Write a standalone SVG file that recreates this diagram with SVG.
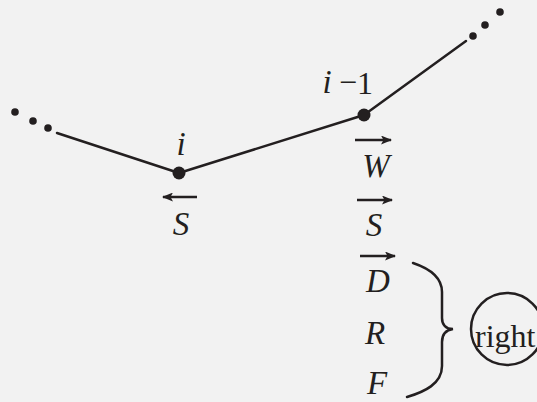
<svg xmlns="http://www.w3.org/2000/svg" width="537" height="402" viewBox="0 0 537 402">
<defs>
<style>
.ln{stroke:#231f20;stroke-width:2.5;fill:none;stroke-linecap:round}
.ar{stroke:#231f20;stroke-width:2.6;fill:none}
.dot{fill:#231f20}
.m{font-family:"Liberation Serif","Times New Roman",serif;font-style:italic;font-size:33px;fill:#231f20}
.u{font-family:"Liberation Serif","Times New Roman",serif;font-size:32px;fill:#231f20}
</style>
<marker id="ah" viewBox="0 0 11 9" refX="10" refY="4.5" markerWidth="11" markerHeight="9" markerUnits="userSpaceOnUse" orient="auto">
<path d="M0,0 L11,4.5 L0,9 L2.5,4.5 Z" fill="#231f20"/>
</marker>
</defs>
<rect width="537" height="402" fill="#f2f2f2"/>
<g id="connectors">
<line class="ln" x1="57" y1="133" x2="179" y2="173"/>
<line class="ln" x1="179" y1="173" x2="364" y2="115"/>
<line class="ln" x1="364" y1="115" x2="466" y2="41"/>
<circle class="dot" cx="15" cy="112" r="3.8"/>
<circle class="dot" cx="33" cy="121" r="3.8"/>
<circle class="dot" cx="48" cy="128" r="3.8"/>
<circle class="dot" cx="473" cy="36" r="3.8"/>
<circle class="dot" cx="485" cy="25" r="3.8"/>
<circle class="dot" cx="500" cy="12" r="3.8"/>
</g>
<g id="node-i">
<circle class="dot" cx="179" cy="173" r="6.5"/>
<text class="m" x="181" y="155" text-anchor="middle">i</text>
<line class="ar" x1="197" y1="197" x2="163" y2="197" marker-end="url(#ah)"/>
<text class="m" x="181" y="235" text-anchor="middle">S</text>
</g>
<g id="node-i-1">
<circle class="dot" cx="364" cy="115" r="6.5"/>
<text class="m" x="327" y="93" text-anchor="middle">i</text>
<text class="u" x="348" y="93" text-anchor="middle" font-size="26">−</text>
<text class="u" x="365" y="94" text-anchor="middle" font-size="25">1</text>
<line class="ar" x1="355" y1="140" x2="391" y2="140" marker-end="url(#ah)"/>
<text class="m" x="376" y="177" text-anchor="middle">W</text>
<line class="ar" x1="357" y1="200" x2="392" y2="200" marker-end="url(#ah)"/>
<text class="m" x="374" y="236" text-anchor="middle">S</text>
<line class="ar" x1="360" y1="256" x2="395" y2="256" marker-end="url(#ah)"/>
<text class="m" x="378" y="292" text-anchor="middle">D</text>
<text class="m" x="375" y="344" text-anchor="middle">R</text>
<text class="m" x="377" y="394" text-anchor="middle">F</text>
</g>
<g id="brace">
<path class="ln" d="M413,263 C428,268 442,276 442,292 L442,318 C442,325 446,329 453,329 C446,330 442,334 442,342 L442,366 C442,384 424,392 407,397"/>
</g>
<g id="node-right">
<circle cx="507" cy="329" r="36" fill="none" stroke="#231f20" stroke-width="2.5"/>
<text class="u" x="475" y="347">right</text>
</g>
</svg>
